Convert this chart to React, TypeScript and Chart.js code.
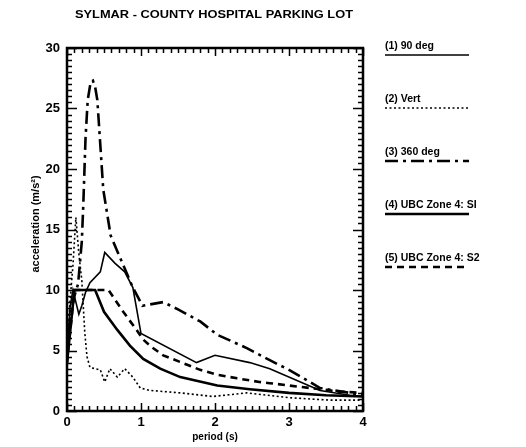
import React, { useEffect, useRef } from "react";
import { Chart, registerables } from "chart.js";

Chart.register(...registerables);

const chartTitle = "SYLMAR - COUNTY HOSPITAL PARKING LOT";
const xAxisTitle = "period (s)";
const yAxisTitle = "acceleration (m/s²)";
const xTicks = [0, 1, 2, 3, 4];
const yTicks = [0, 5, 10, 15, 20, 25, 30];

const seriesLabels = [
  "(1) 90 deg",
  "(2) Vert",
  "(3) 360 deg",
  "(4) UBC Zone 4: SI",
  "(5) UBC Zone 4: S2",
];

// (1) 90 deg
const t90 = [0, 0.04, 0.08, 0.12, 0.16, 0.2, 0.25, 0.31, 0.45, 0.51, 0.65, 0.78, 0.89, 1.0, 1.75, 2.0, 2.47, 2.74, 3.42, 3.82, 4.0];
const a90 = [4.5, 8.5, 10, 9, 8, 8.7, 9.8, 10.6, 11.5, 13.1, 12.2, 11.5, 10.2, 6.4, 4.0, 4.6, 4.0, 3.5, 1.7, 1.3, 1.2];

// (2) Vert
const tVert = [0, 0.04, 0.08, 0.12, 0.16, 0.2, 0.24, 0.27, 0.31, 0.45, 0.51, 0.58, 0.68, 0.78, 0.89, 0.99, 1.12, 1.53, 1.97, 2.43, 3.0, 3.55, 4.0];
const aVert = [4.5, 9, 12, 16, 13, 10.8, 6.5, 4.5, 3.6, 3.4, 2.4, 3.5, 2.8, 3.5, 2.8, 1.9, 1.7, 1.5, 1.2, 1.5, 1.1, 0.9, 0.9];

// (3) 360 deg
const t360 = [0, 0.05, 0.1, 0.15, 0.2, 0.22, 0.25, 0.28, 0.32, 0.35, 0.38, 0.41, 0.49, 0.59, 0.75, 0.89, 1.02, 1.3, 1.5, 1.8, 2.03, 2.43, 2.74, 3.0, 3.42, 3.82, 4.0];
const a360 = [4.5, 8, 9.5, 10.5, 14, 17, 22.5, 25.7, 27.2, 27.3, 26.8, 25.7, 18.3, 14.5, 12.2, 10.2, 8.7, 9.0, 8.4, 7.4, 6.3, 5.2, 4.2, 3.4, 1.9, 1.5, 1.3];

// (4) UBC Zone 4: S1
const tS1 = [0, 0.1, 0.38, 0.5, 0.68, 0.85, 1.03, 1.26, 1.53, 2.03, 2.47, 3.0, 3.5, 4.0];
const aS1 = [4, 10, 10, 8.2, 6.7, 5.4, 4.3, 3.5, 2.8, 2.1, 1.8, 1.5, 1.3, 1.2];

// (5) UBC Zone 4: S2
const tS2 = [0, 0.1, 0.56, 0.76, 0.94, 1.03, 1.14, 1.3, 1.55, 1.8, 2.03, 2.3, 2.6, 2.74, 3.28, 3.69, 4.0];
const aS2 = [4, 10, 10, 8.2, 6.7, 5.9, 5.3, 4.6, 4.0, 3.4, 3.0, 2.7, 2.4, 2.3, 1.9, 1.6, 1.5];

const pts = (t: number[], a: number[]) => t.map((x, i) => ({ x, y: a[i] }));

const FONT = "'Liberation Sans', Arial, Helvetica, sans-serif";

const decorPlugin = {
  id: "decor",
  afterDatasetsDraw(chart: any) {
    const { ctx, chartArea } = chart;
    const { left, right, top, bottom } = chartArea;
    const xs = chart.scales.x;
    const ys = chart.scales.y;
    ctx.save();
    ctx.strokeStyle = "#000";
    ctx.fillStyle = "#000";
    ctx.setLineDash([]);
    // ticks
    ctx.lineWidth = 1.5;
    for (let i = 0; i <= 40; i++) {
      const v = i / 10;
      const px = Math.round(xs.getPixelForValue(v)) + 0.5;
      const len = i % 10 === 0 ? 8 : 5;
      ctx.beginPath();
      ctx.moveTo(px, bottom);
      ctx.lineTo(px, bottom - len);
      ctx.moveTo(px, top);
      ctx.lineTo(px, top + len);
      ctx.stroke();
    }
    for (let i = 0; i <= 60; i++) {
      const v = i / 2;
      const py = Math.round(ys.getPixelForValue(v)) + 0.5;
      const len = i % 10 === 0 ? 10 : 5;
      ctx.beginPath();
      ctx.moveTo(left, py);
      ctx.lineTo(left + len, py);
      ctx.moveTo(right, py);
      ctx.lineTo(right - len, py);
      ctx.stroke();
    }
    // frame
    ctx.lineWidth = 2.5;
    ctx.strokeRect(left, top, right - left, bottom - top);

    // title
    ctx.font = `bold 11px ${FONT}`;
    ctx.textAlign = "left";
    ctx.textBaseline = "middle";
    const tw = ctx.measureText(chartTitle).width;
    const targetW = 278;
    ctx.save();
    ctx.translate(214 - targetW / 2, 15);
    ctx.scale(targetW / tw, 1);
    ctx.fillText(chartTitle, 0, 0);
    ctx.restore();

    // axis titles
    ctx.font = `bold 10px ${FONT}`;
    ctx.textAlign = "center";
    ctx.fillText(xAxisTitle, (left + right) / 2, 437);
    ctx.save();
    ctx.translate(36, 224);
    ctx.rotate(-Math.PI / 2);
    ctx.font = `bold 11px ${FONT}`;
    ctx.fillText(yAxisTitle, 0, 0);
    ctx.restore();

    // legend
    const lx = 385;
    const lineEnd = 469;
    chart.data.datasets.forEach((ds: any, i: number) => {
      const ty = 46 + i * 53;
      ctx.font = `bold 10.5px ${FONT}`;
      ctx.textAlign = "left";
      ctx.textBaseline = "middle";
      ctx.fillStyle = "#000";
      ctx.fillText(ds.label, lx, ty);
      ctx.beginPath();
      ctx.lineWidth = ds.borderWidth;
      ctx.setLineDash(ds.borderDash || []);
      ctx.moveTo(lx, ty + 9);
      ctx.lineTo(lineEnd, ty + 9);
      ctx.stroke();
    });
    ctx.restore();
  },
};

export default function App() {
  const ref = useRef<HTMLCanvasElement | null>(null);
  useEffect(() => {
    document.body.style.margin = "0";
    const canvas = ref.current;
    if (!canvas) return;
    const common = { showLine: true, pointRadius: 0, borderColor: "#000", backgroundColor: "#000", fill: false, tension: 0 };
    const chart = new Chart(canvas, {
      type: "scatter",
      data: {
        datasets: [
          { ...common, label: seriesLabels[0], data: pts(t90, a90), borderWidth: 1.6, borderDash: [] },
          { ...common, label: seriesLabels[1], data: pts(tVert, aVert), borderWidth: 1.6, borderDash: [2, 2.5] },
          { ...common, label: seriesLabels[2], data: pts(t360, a360), borderWidth: 2.6, borderDash: [13, 5, 3, 5] },
          { ...common, label: seriesLabels[3], data: pts(tS1, aS1), borderWidth: 2.6, borderDash: [] },
          { ...common, label: seriesLabels[4], data: pts(tS2, aS2), borderWidth: 2.6, borderDash: [7, 5] },
        ],
      } as any,
      options: {
        responsive: false,
        animation: false,
        devicePixelRatio: 1,
        layout: { padding: { top: 48, right: 163, left: 0, bottom: 0 } },
        plugins: { legend: { display: false }, title: { display: false }, tooltip: { enabled: false } },
        scales: {
          x: {
            type: "linear",
            min: 0,
            max: 4,
            afterBuildTicks: (s: any) => { s.ticks = xTicks.map((v) => ({ value: v })); },
            grid: { display: false, drawTicks: false },
            border: { display: false },
            ticks: { color: "#000", font: { family: FONT, weight: "bold", size: 13 }, padding: 4, maxRotation: 0, autoSkip: false },
            afterFit: (s: any) => { s.height = 36; },
          },
          y: {
            type: "linear",
            min: 0,
            max: 30,
            afterBuildTicks: (s: any) => { s.ticks = yTicks.map((v) => ({ value: v })); },
            grid: { display: false, drawTicks: false },
            border: { display: false },
            ticks: { color: "#000", font: { family: FONT, weight: "bold", size: 13 }, padding: 7, autoSkip: false },
            afterFit: (s: any) => { s.width = 67; },
          },
        },
      } as any,
      plugins: [decorPlugin],
    });
    return () => chart.destroy();
  }, []);
  return (
    <div style={{ position: "absolute", left: 0, top: 0, width: 526, height: 447, background: "#fff" }}>
      <canvas ref={ref} width={526} height={447} style={{ width: 526, height: 447, display: "block" }} />
    </div>
  );
}
